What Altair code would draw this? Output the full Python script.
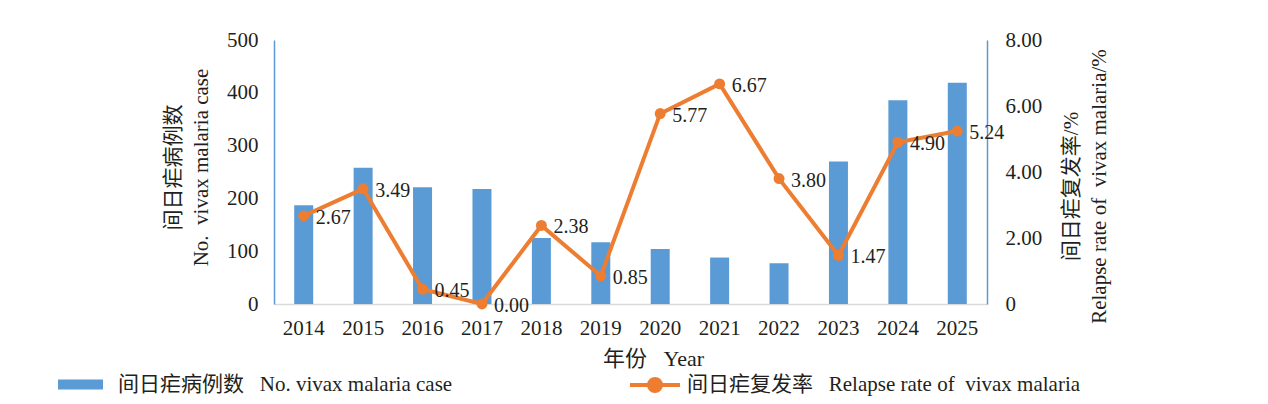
import altair as alt
import pandas as pd

years = ["2014", "2015", "2016", "2017", "2018", "2019", "2020", "2021", "2022", "2023", "2024", "2025"]
cases = [187, 258, 221, 218, 125, 117, 104, 88, 77, 270, 386, 419]
rates = [2.67, 3.49, 0.45, 0.00, 2.38, 0.85, 5.77, 6.67, 3.80, 1.47, 4.90, 5.24]
rate_labels = ["2.67", "3.49", "0.45", "0.00", "2.38", "0.85", "5.77", "6.67", "3.80", "1.47", "4.90", "5.24"]
case_ticks = [0, 100, 200, 300, 400, 500]
rate_ticks = [0, 2, 4, 6, 8]
bar_series = "间日疟病例数\u2002 No. vivax malaria case"
line_series = "间日疟复发率\u2002 Relapse rate of\u2002vivax malaria"
x_title = "年份\u2002 Year"
left_title = ["间日疟病例数", "No.\u2002vivax malaria case"]
right_title = ["间日疟复发率/%", "Relapse rate of\u2002vivax malaria/%"]

df = pd.DataFrame({
    "year": years, "cases": cases, "rate": rates, "label": rate_labels,
    "s1": [bar_series] * len(years), "s2": [line_series] * len(years),
})

FONT = "Liberation Serif, Noto Sans CJK SC"
TXT = "#231F20"
BLUE = "#5B9BD5"
ORANGE = "#ED7D31"

x = alt.X(
    "year:N", sort=years,
    scale=alt.Scale(paddingInner=0, paddingOuter=0),
    axis=alt.Axis(
        title=x_title, labelAngle=0, domainColor="#D9D9D9", domainWidth=1.5,
        ticks=False, tickSize=0, labelPadding=13, labelFontSize=21,
        titleX=379, titleY=61, titleBaseline="alphabetic", titleAlign="center",
        titleFontSize=22,
    ),
)

y_cases = alt.Y(
    "cases:Q", scale=alt.Scale(domain=[0, 500]),
    axis=alt.Axis(
        values=case_ticks, title=left_title, grid=False, ticks=False, tickSize=0,
        domainColor=BLUE, domainWidth=1.5, labelPadding=16, labelFontSize=21,
        titleAngle=-90, titleX=-95, titleY=127, titleAlign="center",
        titleBaseline="alphabetic", titleLineHeight=28, titleFontSize=21,
    ),
)

y_rate = alt.Y(
    "rate:Q", scale=alt.Scale(domain=[0, 8]),
    axis=alt.Axis(
        orient="right", values=rate_ticks, title=right_title, grid=False,
        ticks=False, tickSize=0, domainColor=BLUE, domainWidth=1.5,
        labelPadding=18, labelFontSize=21,
        labelExpr="datum.value == 0 ? '0' : format(datum.value, '.2f')",
        titleAngle=-90, titleX=90, titleY=146, titleAlign="center",
        titleBaseline="alphabetic", titleLineHeight=28, titleFontSize=21,
    ),
)

bars = alt.Chart(df).mark_bar(size=19).encode(
    x=x, y=y_cases,
    color=alt.Color(
        "s1:N", scale=alt.Scale(range=[BLUE]),
        legend=alt.Legend(
            title=None, orient="none", legendX=-216, legendY=322,
            symbolType="M-1,-0.222H1V0.222H-1Z", symbolSize=2025,
            symbolStrokeWidth=0, symbolOpacity=1, labelOffset=15, labelFontSize=21,
            labelFont=FONT, labelColor=TXT, labelLimit=0,
        ),
    ),
)

line = alt.Chart(df).mark_line(color=ORANGE, strokeWidth=4).encode(x=x, y=y_rate)

points = alt.Chart(df).mark_point(filled=True, size=120, opacity=1).encode(
    x=x, y=y_rate,
    color=alt.Color(
        "s2:N", scale=alt.Scale(range=[ORANGE]),
        legend=alt.Legend(
            title=None, orient="none", legendX=354, legendY=318,
            symbolType="M-1,0H1M0.24,0A0.24,0.24,0,1,1,-0.24,0A0.24,0.24,0,1,1,0.24,0Z",
            symbolSize=2500, symbolStrokeColor=ORANGE, symbolFillColor=ORANGE,
            symbolStrokeWidth=4, symbolOpacity=1, labelOffset=5, labelFontSize=21,
            labelFont=FONT, labelColor=TXT, labelLimit=0,
        ),
    ),
)

labels = alt.Chart(df).mark_text(
    align="left", baseline="middle", dx=12, dy=2, fontSize=20, font=FONT, color=TXT
).encode(x=x, y=y_rate, text="label:N")

rate_layer = alt.layer(line, points, labels)

chart = alt.layer(bars, rate_layer).resolve_scale(
    y="independent", color="independent"
).resolve_legend(color="independent").properties(
    width=713, height=264,
    padding={"left": 266, "top": 32, "right": 260, "bottom": 92},
    autosize=alt.AutoSizeParams(type="none"),
).configure_view(stroke=None).configure_axis(
    labelFont=FONT, titleFont=FONT, labelColor=TXT, titleColor=TXT,
    titleFontWeight="normal",
).configure_legend(labelFont=FONT, labelColor=TXT)

chart.save("out.html", embed_options={"renderer": "svg", "actions": False})
